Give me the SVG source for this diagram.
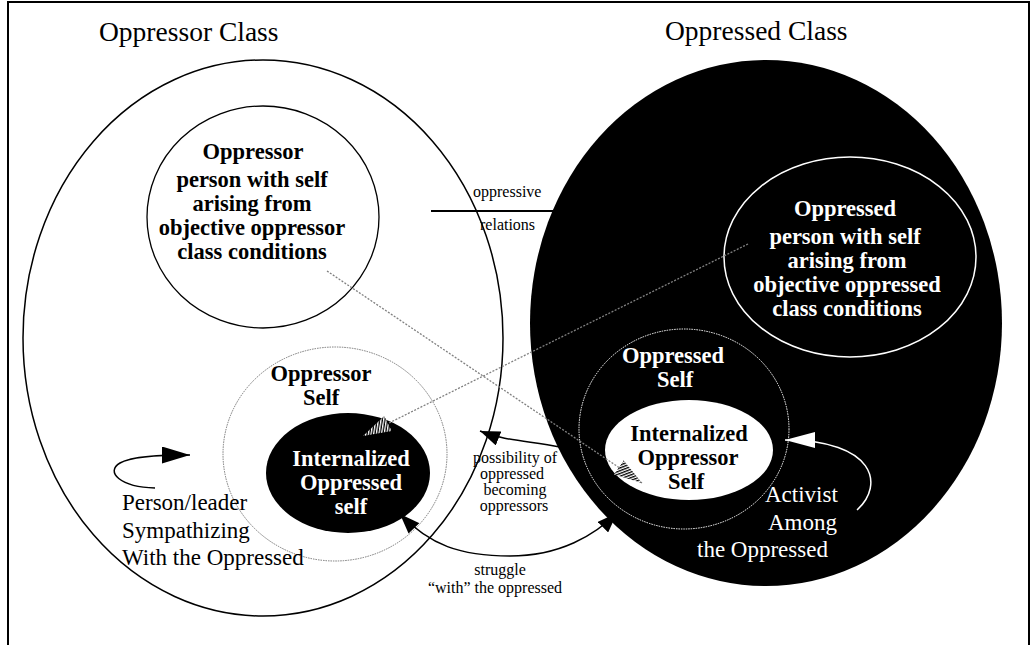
<svg xmlns="http://www.w3.org/2000/svg" width="1031" height="645" viewBox="0 0 1031 645">
<style>
text{font-family:"Liberation Serif","Times New Roman",serif}
.title{font-size:27.5px}
.b{font-size:22.5px;font-weight:bold;text-anchor:middle}
.r{font-size:23px}
.s{font-size:16px}
.sm{font-size:16px;text-anchor:middle}
.w{fill:#fff}
.k{fill:#000}
.dot{fill:none;stroke:#808080;stroke-width:1.3;stroke-dasharray:2,1.5}
.arc{fill:none;stroke:#000;stroke-width:1.5}
</style>
<defs>
<pattern id="hatch" width="2.6" height="2.6" patternUnits="userSpaceOnUse" patternTransform="rotate(35)">
<rect width="2.6" height="2.6" fill="#fff"/>
<rect width="1.3" height="2.6" fill="#000"/>
</pattern>
<marker id="ah" viewBox="0 0 20 15" refX="20" refY="7.5" markerWidth="20" markerHeight="15" markerUnits="userSpaceOnUse" orient="auto-start-reverse">
<path d="M0,0 L20,7.5 L0,15 z" fill="#000"/>
</marker>
<marker id="ahL" viewBox="0 0 28 17" refX="28" refY="8.5" markerWidth="28" markerHeight="17" markerUnits="userSpaceOnUse" orient="auto">
<path d="M0,0 L28,8.5 L0,17 z" fill="#000"/>
</marker>
<marker id="ahW" viewBox="0 0 30 16" refX="30" refY="8" markerWidth="30" markerHeight="16" markerUnits="userSpaceOnUse" orient="auto">
<path d="M0,0 L30,8 L0,16 z" fill="#fff"/>
</marker>
<marker id="ahH" viewBox="0 0 28 17" refX="28" refY="8.5" markerWidth="28" markerHeight="17" markerUnits="userSpaceOnUse" orient="auto">
<path d="M0,0 L28,8.5 L0,17 z" fill="url(#hatch)"/>
</marker>
</defs>
<rect width="1031" height="645" fill="#fff"/>
<path d="M8,650 V2 H1029 V650" fill="none" stroke="#000" stroke-width="2"/>

<g id="oppressor-class">
<ellipse cx="263" cy="338" rx="240" ry="278" fill="none" stroke="#000" stroke-width="1.5"/>
<text class="title" x="99" y="41">Oppressor Class</text>
</g>

<g id="oppressed-class">
<ellipse cx="766" cy="323" rx="236" ry="263" fill="#000"/>
<text class="title" x="665" y="40">Oppressed Class</text>
</g>

<g id="oppressor-person">
<ellipse cx="263" cy="217" rx="116" ry="111" fill="none" stroke="#000" stroke-width="1.3"/>
<text class="b" x="253" y="159">Oppressor</text>
<text class="b" x="252" y="187">person with self</text>
<text class="b" x="252" y="211">arising from</text>
<text class="b" x="252" y="235">objective oppressor</text>
<text class="b" x="252" y="259">class conditions</text>
</g>

<g id="oppressed-person">
<ellipse cx="850" cy="257" rx="126" ry="100" fill="none" stroke="#fff" stroke-width="1.5"/>
<text class="b w" x="845" y="216">Oppressed</text>
<text class="b w" x="845" y="244">person with self</text>
<text class="b w" x="847" y="268">arising from</text>
<text class="b w" x="847" y="292">objective oppressed</text>
<text class="b w" x="847" y="316">class conditions</text>
</g>

<g id="oppressor-self">
<ellipse cx="335" cy="454" rx="112" ry="107" fill="none" stroke="#777" stroke-width="1" stroke-dasharray="1.5,1"/>
<text class="b" x="321" y="381">Oppressor</text>
<text class="b" x="321" y="405">Self</text>
</g>

<g id="internalized-oppressed-self">
<ellipse cx="348" cy="473" rx="82" ry="60" fill="#000"/>
<text class="b w" x="351" y="466">Internalized</text>
<text class="b w" x="351" y="490">Oppressed</text>
<text class="b w" x="351" y="514">self</text>
</g>

<g id="oppressed-self">
<ellipse cx="684" cy="429" rx="105" ry="100" fill="none" stroke="#fff" stroke-width="1" stroke-dasharray="1.5,1"/>
<text class="b w" x="673" y="363">Oppressed</text>
<text class="b w" x="675" y="387">Self</text>
</g>

<g id="internalized-oppressor-self">
<ellipse cx="689" cy="450" rx="84" ry="50" fill="#fff"/>
<text class="b k" x="689" y="441">Internalized</text>
<text class="b k" x="688" y="465">Oppressor</text>
<text class="b k" x="686" y="489">Self</text>
</g>

<g id="sympathizer">
<text class="r" x="122" y="510">Person/leader</text>
<text class="r" x="122" y="538">Sympathizing</text>
<text class="r" x="122" y="565">With the Oppressed</text>
</g>

<g id="activist">
<text class="r w" x="765" y="502">Activist</text>
<text class="r w" x="768" y="530">Among</text>
<text class="r w" x="697" y="557">the Oppressed</text>
</g>

<g id="connectors">
<line x1="431" y1="211" x2="555" y2="211" stroke="#000" stroke-width="2"/>
<text class="s" x="473" y="197">oppressive</text>
<text class="s" x="480" y="230">relations</text>

<path class="dot" d="M327,271 L642,483" marker-end="url(#ahH)"/>
<path class="dot" d="M748,244 L363,436" marker-end="url(#ahH)"/>

<path class="arc" d="M155,488 C120,487 105,472 120,463 C132,456 160,455 190,455" marker-end="url(#ahL)"/>

<path class="arc" d="M560,447 C530,441 505,441 480,431" marker-end="url(#ah)"/>
<text class="sm" x="515" y="463">possibility of</text>
<text class="sm" x="512" y="479">oppressed</text>
<text class="sm" x="515" y="495">becoming</text>
<text class="sm" x="514" y="511">oppressors</text>

<path class="arc" d="M400,514 C430,545 460,556 510,556 C560,556 595,535 617,513" marker-start="url(#ah)" marker-end="url(#ah)"/>
<text class="sm" x="500" y="575">struggle</text>
<text class="sm" x="495" y="593">“with” the oppressed</text>

<path d="M857,510 C885,485 875,440 785,440" fill="none" stroke="#fff" stroke-width="1.5" marker-end="url(#ahW)"/>
</g>
</svg>
